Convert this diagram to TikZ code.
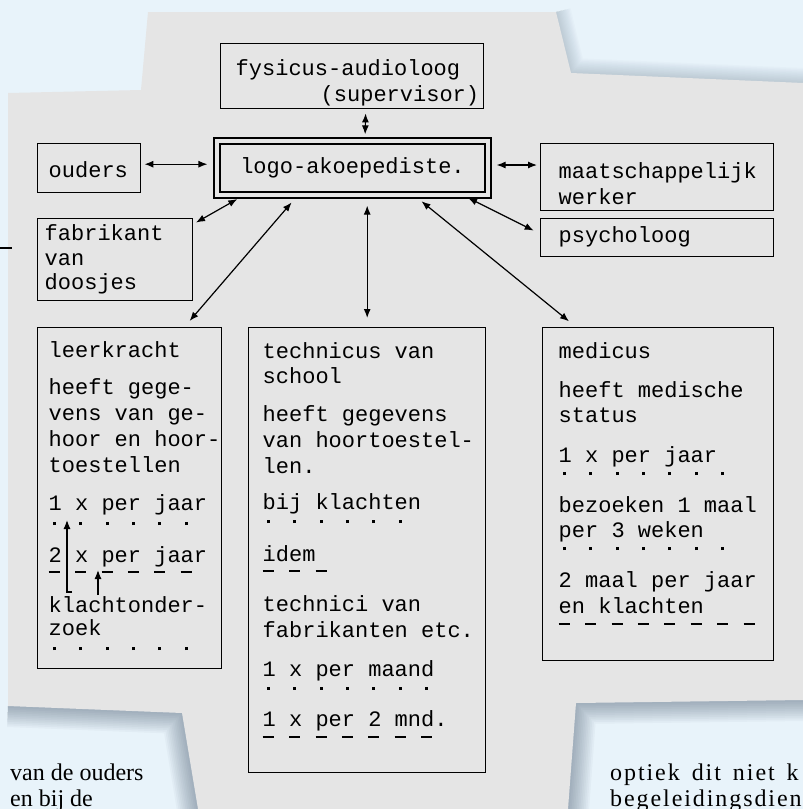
\documentclass[tikz,border=0pt]{standalone}
\usepackage{fontspec}
\setmainfont{Liberation Serif}
\newfontfamily\typewriter{Liberation Mono}
\newfontfamily\wideserif[LetterSpace=8]{Liberation Serif}
\usepackage{tikz}
\usetikzlibrary{arrows.meta,calc,positioning}

\definecolor{pagebg}{RGB}{232,243,250}
\definecolor{paper}{RGB}{229,229,229}
\definecolor{shade}{RGB}{60,80,100}

% typed card: left pad, width, height, first baseline, lines
\newcommand\typed[5]{%
  \hbox to #2{\hskip#1\vbox to #3{\frenchspacing\baselineskip=26pt\lineskiplimit=-100pt
    \hbox{\rule{0pt}{#4}}\vskip-26pt #5\vfil}\hss}}
\newcommand\tline[1]{\hbox{#1}}
\newcommand\gap[1]{\vskip#1\relax}
% typed dots / dashes under a line: count, drop, text
\newcommand\dotsunder[3]{\hbox{\rlap{\raisebox{#2}{\leaders\hbox to 26.4pt{\hskip4pt\rule{3pt}{3pt}\hss}\hskip\dimexpr#1\dimexpr26.4pt\relax+1pt\relax}}#3}}
\newcommand\dashunder[3]{\hbox{\rlap{\raisebox{#2}{\leaders\hbox to 26.4pt{\rule{11pt}{2pt}\hss}\hskip\dimexpr#1\dimexpr26.4pt\relax+1pt\relax}}#3}}

\tikzset{
    typetip/.tip={Latex[length=9pt,width=7pt]},
    card/.style={draw, line width=1.4pt, anchor=north west, inner sep=0pt,
        font=\typewriter\fontsize{22}{26}\selectfont},
    hub/.style={draw, double=paper, double distance=4.8pt, line width=1.2pt,
        minimum width=271pt, minimum height=54pt, inner sep=0pt,
        font=\typewriter\fontsize{22}{26}\selectfont},
    link/.style={typetip-typetip, line width=1.2pt},
    pointer/.style={-typetip, line width=1.2pt},
    halo/.style={draw=shade, line join=round},
    bodytext/.style={anchor=base west, inner sep=0pt,
        font=\fontsize{24}{28}\selectfont},
}

\begin{document}
\begin{tikzpicture}[x=1pt,y=-1pt]
    \useasboundingbox (0,0) rectangle (803,809);
    \fill[pagebg] (0,0) rectangle (803,809);

    % shadows round the sheet
    \foreach \i in {1,...,12} {
        \draw[halo, line width=3.5*\i pt, opacity=0.04]
            (8,706) -- (182,713) -- (198,809);
        \draw[halo, line width=3.5*\i pt, opacity=0.04]
            (803,700) -- (576,703) -- (568,809);
        \draw[halo, line width=2.5*\i pt, opacity=0.018]
            (556,12) -- (571,73) -- (803,83);
    }
    \fill[paper] (148,12) -- (556,12) -- (571,73) -- (803,83) -- (803,700)
        -- (576,703) -- (568,809) -- (198,809) -- (182,713) -- (8,706)
        -- (8,93) -- (141,90) -- cycle;
    \draw[line width=1.5pt] (0,248) -- (12,248);

    % the boxes
    \node[card] (fysicus) at (220,43)
        {\typed{15pt}{263pt}{65pt}{32pt}{\tline{fysicus-audioloog}\tline{\hskip85pt(supervisor)}}};
    \node[hub] (logo) at (352.5,168) {logo-akoepediste.};
    \node[card] (ouders) at (37,143)
        {\typed{11pt}{103pt}{49pt}{34pt}{\tline{ouders}}};
    \node[card] (fabrikant) at (37,218)
        {\typed{7pt}{155pt}{82pt}{22pt}{\tline{fabrikant}\gap{-1.5pt}\tline{van}\gap{-1.5pt}\tline{doosjes}}};
    \node[card] (maats) at (540,143)
        {\typed{18pt}{233pt}{67pt}{35pt}{\tline{maatschappelijk}\tline{werker}}};
    \node[card] (psych) at (540,218)
        {\typed{18pt}{233pt}{38pt}{24pt}{\tline{psycholoog}}};

    \node[card] (leerkracht) at (37,327) {\typed{11pt}{184pt}{341pt}{30pt}{%
        \tline{leerkracht}\gap{11pt}
        \tline{heeft gege-}
        \tline{vens van ge-}
        \tline{hoor en hoor-}
        \tline{toestellen}\gap{12pt}
        \dotsunder{6}{-14.5pt}{1 x per jaar}\gap{26pt}
        \dashunder{6}{-10pt}{2 x per jaar}\gap{24pt}
        \tline{klachtonder-}\gap{-3pt}
        \dotsunder{6}{-14.5pt}{zoek}}};
    \node[card] (technicus) at (248,327) {\typed{14pt}{237pt}{445pt}{31pt}{%
        \tline{technicus van}\gap{-1pt}
        \tline{school}\gap{12pt}
        \tline{heeft gegevens}
        \tline{van hoortoestel-}
        \tline{len.}\gap{10pt}
        \dotsunder{6}{-13.5pt}{bij klachten}\gap{26pt}
        \dashunder{3}{-10pt}{idem}\gap{24pt}
        \tline{technici van}
        \tline{fabrikanten etc.}\gap{13pt}
        \dotsunder{7}{-13pt}{1 x per maand}\gap{24pt}
        \dashunder{7}{-11pt}{1 x per 2 mnd.}}};
    \node[card] (medicus) at (542,327) {\typed{16pt}{231pt}{333pt}{31pt}{%
        \tline{medicus}\gap{13pt}
        \tline{heeft medische}\gap{-1pt}
        \tline{status}\gap{14pt}
        \dotsunder{7}{-12.5pt}{1 x per jaar}\gap{24pt}
        \tline{bezoeken 1 maal}\gap{-1pt}
        \dotsunder{7}{-12.5pt}{per 3 weken}\gap{24pt}
        \tline{2 maal per jaar}
        \dashunder{8}{-11pt}{en klachten}}};

    % connections to the logo-akoepediste
    \draw[link, shorten <=4pt, shorten >=6pt] ([xshift=13.5pt]fysicus.south) -- ([xshift=12.5pt]logo.north);
    \draw[link, shorten <=3pt, shorten >=9pt] ([yshift=4pt]ouders.east) -- ([yshift=4pt]ouders.east -| logo.west);
    \draw[link, shorten <=8pt, shorten >=3pt] ([yshift=3pt]logo.east) -- ([yshift=3pt]logo.east -| maats.west);
    \draw[link, shorten <=3pt, shorten >=7pt] ([yshift=-6pt]fabrikant.north east) -- ([xshift=27pt]logo.south west);
    \draw[link, shorten <=5pt, shorten >=7pt] ([xshift=-25pt]logo.south east) -- ([yshift=4pt]psych.west);
    \draw[link, shorten <=9pt, shorten >=8pt] ([xshift=-55pt]logo.south) -- ([xshift=-38pt]leerkracht.north east);
    \draw[link, shorten <=10pt, shorten >=9pt] (logo.south -| technicus.north) -- (technicus.north);
    \draw[link, shorten <=9pt, shorten >=9pt] ([xshift=62pt]logo.south) -- ([xshift=34pt]medicus.north west);

    % arrows inside the leerkracht card
    \draw[pointer] ([shift={(35,265)}]leerkracht.north west) -- ++(-5,0)
        -- ([shift={(30,193)}]leerkracht.north west);
    \draw[pointer] ([shift={(61,268)}]leerkracht.north west) -- ([shift={(61,243)}]leerkracht.north west);

    % running text of the page
    \node[bodytext] (leftA) at (10,780) {van de ouders};
    \node[bodytext] (leftB) at (10,806) {en bij de};
    \node[bodytext, font=\wideserif\fontsize{24}{28}\selectfont] (rightA) at (610,780)
        {optiek\hskip12pt dit\hskip12pt niet\hskip12pt k};
    \node[bodytext, font=\wideserif\fontsize{24}{28}\selectfont] (rightB) at (610,806)
        {begeleidingsdien};
\end{tikzpicture}
\end{document}
